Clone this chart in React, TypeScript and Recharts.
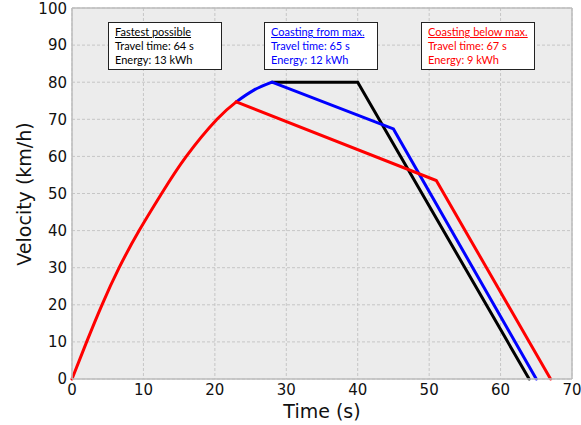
import {
	CartesianGrid,
	Line,
	LineChart,
	ReferenceLine,
	XAxis,
	YAxis,
} from "recharts";

// acceleration curve, shared by all three runs (s, km/h)
const accelTime = [0, 2.05, 4.2, 6.6, 9.4, 12.55, 16.0, 20.3, 23.0];
const accelSpeed = [0, 10, 20, 30, 40, 50, 60, 70, 74.7];
// rest of the curve up to max speed (only visible in blue)
const topCurveTime = [23.0, 25.4, 28];
const topCurveSpeed = [74.7, 77.8, 80];

// straight parts: cruise / coast / brake
const fastestTime = [28, 40, 64];
const fastestSpeed = [80, 80, 0];
const coastMaxTime = [28, 45, 65];
const coastMaxSpeed = [80, 67.4, 0];
const coastBelowTime = [23.0, 51, 67];
const coastBelowSpeed = [74.7, 53.5, 0];

const xTicks = [0, 10, 20, 30, 40, 50, 60, 70];
const yTicks = [0, 10, 20, 30, 40, 50, 60, 70, 80, 90, 100];

const boxes = [
	{ title: "Fastest possible", time: "Travel time: 64 s", energy: "Energy: 13 kWh", color: "#000000", left: 108 },
	{ title: "Coasting from max.", time: "Travel time: 65 s", energy: "Energy: 12 kWh", color: "#0000ff", left: 264 },
	{ title: "Coasting below max.", time: "Travel time: 67 s", energy: "Energy: 9 kWh", color: "#ff0000", left: 421 },
];

const zip = (t: number[], v: number[]) => t.map((x, i) => ({ t: x, v: v[i] }));

const FRAME = "#bdbdbd";
const tickStyle = { fontSize: 15, fill: "#111", fontFamily: "DejaVu Sans" };

// one Line per segment so the curves can be smooth and the rest straight
const segments = [
	{ key: "black", data: zip(fastestTime, fastestSpeed), color: "#000000", type: "linear" },
	{ key: "blue-curve", data: zip(topCurveTime, topCurveSpeed), color: "#0000ff", type: "natural" },
	{ key: "blue", data: zip(coastMaxTime, coastMaxSpeed), color: "#0000ff", type: "linear" },
	{ key: "red-curve", data: zip(accelTime, accelSpeed), color: "#ff0000", type: "natural" },
	{ key: "red", data: zip(coastBelowTime, coastBelowSpeed), color: "#ff0000", type: "linear" },
] as const;

export default function App() {
	return (
		<div
			style={{
				position: "absolute",
				left: 0,
				top: 0,
				width: 581,
				height: 425,
				background: "#fff",
				fontFamily: "DejaVu Sans",
			}}
		>
			<LineChart
				width={581}
				height={425}
				margin={{ top: 8, right: 9, left: 0, bottom: 0 }}
			>
				<CartesianGrid
					stroke="#c6c6c6"
					strokeDasharray="3 2"
					fill="#ececec"
				/>
				<XAxis
					type="number"
					dataKey="t"
					domain={[0, 70]}
					ticks={xTicks}
					height={46}
					tick={tickStyle}
					tickLine={false}
					tickSize={0}
					tickMargin={5}
					axisLine={{ stroke: FRAME, strokeWidth: 1.5 }}
					label={{
						content: () => (
							<text
								x={322}
								y={411}
								textAnchor="middle"
								dominantBaseline="central"
								fontSize={19}
								fontFamily="DejaVu Sans"
								fill="#111"
							>
								Time (s)
							</text>
						),
					}}
				/>
				<YAxis
					type="number"
					domain={[0, 100]}
					ticks={yTicks}
					width={72}
					tick={tickStyle}
					tickLine={false}
					tickSize={0}
					tickMargin={5}
					axisLine={{ stroke: FRAME, strokeWidth: 1.5 }}
					label={{
						content: () => (
							<text
								x={23.5}
								y={194}
								transform="rotate(-90 23.5 194)"
								textAnchor="middle"
								dominantBaseline="central"
								fontSize={19}
								fontFamily="DejaVu Sans"
								fill="#111"
							>
								Velocity (km/h)
							</text>
						),
					}}
				/>
				<ReferenceLine y={100} stroke={FRAME} strokeWidth={1.5} />
				<ReferenceLine x={70} stroke={FRAME} strokeWidth={1.5} />
				{segments.map((s) => (
					<Line
						key={s.key}
						data={s.data}
						dataKey="v"
						type={s.type}
						stroke={s.color}
						strokeWidth={3}
						strokeLinecap="round"
						dot={false}
						activeDot={false}
						isAnimationActive={false}
					/>
				))}
			</LineChart>
			{boxes.map((b) => (
				<div
					key={b.title}
					style={{
						position: "absolute",
						left: b.left,
						top: 22,
						width: 114,
						height: 48,
						boxSizing: "border-box",
						border: "1px solid #222",
						background: "#fff",
						padding: "2px 0 2px 6px",
						fontFamily: "Lato",
						fontSize: 11,
						lineHeight: "14px",
						color: b.color,
						whiteSpace: "nowrap",
					}}
				>
					<div style={{ textDecoration: "underline" }}>{b.title}</div>
					<div>{b.time}</div>
					<div>{b.energy}</div>
				</div>
			))}
		</div>
	);
}
